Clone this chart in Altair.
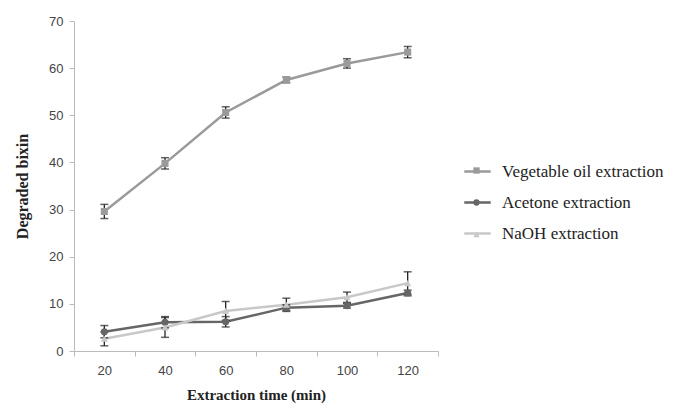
import altair as alt
import pandas as pd

times = ["20", "40", "60", "80", "100", "120"]
series_names = ["Vegetable oil extraction", "Acetone extraction", "NaOH extraction"]
veg_oil = [29.6, 39.8, 50.6, 57.5, 61.0, 63.4]
veg_err = [1.5, 1.2, 1.2, 0.6, 1.0, 1.2]
acetone = [4.1, 6.1, 6.2, 9.2, 9.6, 12.3]
acet_err = [1.3, 1.2, 1.1, 0.6, 0.5, 0.6]
naoh = [2.6, 5.0, 8.5, 9.8, 11.4, 14.4]
naoh_err = [1.5, 2.1, 2.0, 1.4, 1.1, 2.4]
colors = ["#9a9a9a", "#666666", "#c8c8c8"]
shapes = ["square", "circle", "triangle-up"]

rows = []
for name, vals, errs in zip(series_names, [veg_oil, acetone, naoh], [veg_err, acet_err, naoh_err]):
    for t, v, e in zip(times, vals, errs):
        rows.append({"time": t, "series": name, "series_pt": name, "value": v,
                     "lo": v - e, "hi": v + e})
df = pd.DataFrame(rows)

x_enc = alt.X("time:N", sort=times, bandPosition=0.5,
              scale=alt.Scale(type="band", paddingInner=0, paddingOuter=0),
              axis=alt.Axis(title="Extraction time (min)", labelAngle=0, tickBand="extent",
                            domainColor="#bbbbbb", tickColor="#bbbbbb", tickSize=5,
                            labelFont="Liberation Sans", labelFontSize=13, labelColor="#444444",
                            labelPadding=8, titleFont="Liberation Serif", titleFontSize=15,
                            titleFontWeight="bold", titleColor="#222222", titlePadding=10))
y_scale = alt.Scale(domain=[0, 70])
y_axis = alt.Axis(title="Degraded bixin", values=list(range(0, 71, 10)), grid=False,
                  domainColor="#bbbbbb", tickColor="#bbbbbb", tickSize=5,
                  labelFont="Liberation Sans", labelFontSize=13, labelColor="#444444",
                  labelPadding=6, titleFont="Liberation Serif", titleFontSize=16,
                  titleFontWeight="bold", titleColor="#222222", titlePadding=18)

base = alt.Chart(df)

lines = base.mark_line(strokeWidth=2.5).encode(
    x=x_enc,
    y=alt.Y("value:Q", scale=y_scale, axis=y_axis),
    color=alt.Color("series:N", sort=series_names,
                    scale=alt.Scale(domain=series_names, range=colors),
                    legend=alt.Legend(title=None, orient="none", legendX=389, legendY=136,
                                      rowPadding=8, labelLimit=300,
                                      labelFont="Liberation Serif", labelFontSize=17,
                                      labelOffset=10, symbolType="stroke", symbolSize=700,
                                      symbolStrokeWidth=2.5, labelColor="#222222")),
)

errs = base.mark_rule(color="#222222", strokeWidth=1.3).encode(
    x=x_enc, y="lo:Q", y2="hi:Q")
caps_lo = base.mark_tick(color="#222222", thickness=1.5, size=8).encode(x=x_enc, y="lo:Q")
caps_hi = base.mark_tick(color="#222222", thickness=1.5, size=8).encode(x=x_enc, y="hi:Q")

points = base.mark_point(filled=True, opacity=1, size=50).encode(
    x=x_enc,
    y="value:Q",
    color=alt.Color("series_pt:N", sort=series_names,
                    scale=alt.Scale(domain=series_names, range=colors),
                    legend=alt.Legend(title=None, orient="none", legendX=399, legendY=146,
                                      rowPadding=25, labelExpr="''", labelFontSize=1,
                                      symbolSize=40, symbolStrokeWidth=0)),
    shape=alt.Shape("series_pt:N", sort=series_names,
                    scale=alt.Scale(domain=series_names, range=shapes), legend=None),
)

chart = alt.layer(lines, errs, caps_lo, caps_hi, points).resolve_scale(
    color="independent", shape="independent"
).properties(
    width=364, height=330,
    autosize=alt.AutoSizeParams(type="none"),
    padding={"left": 66, "top": 13, "right": 229, "bottom": 53},
).configure_view(stroke=None).configure_legend(symbolOpacity=1)

chart.save("out.html", embed_options={"renderer": "svg", "actions": False})
